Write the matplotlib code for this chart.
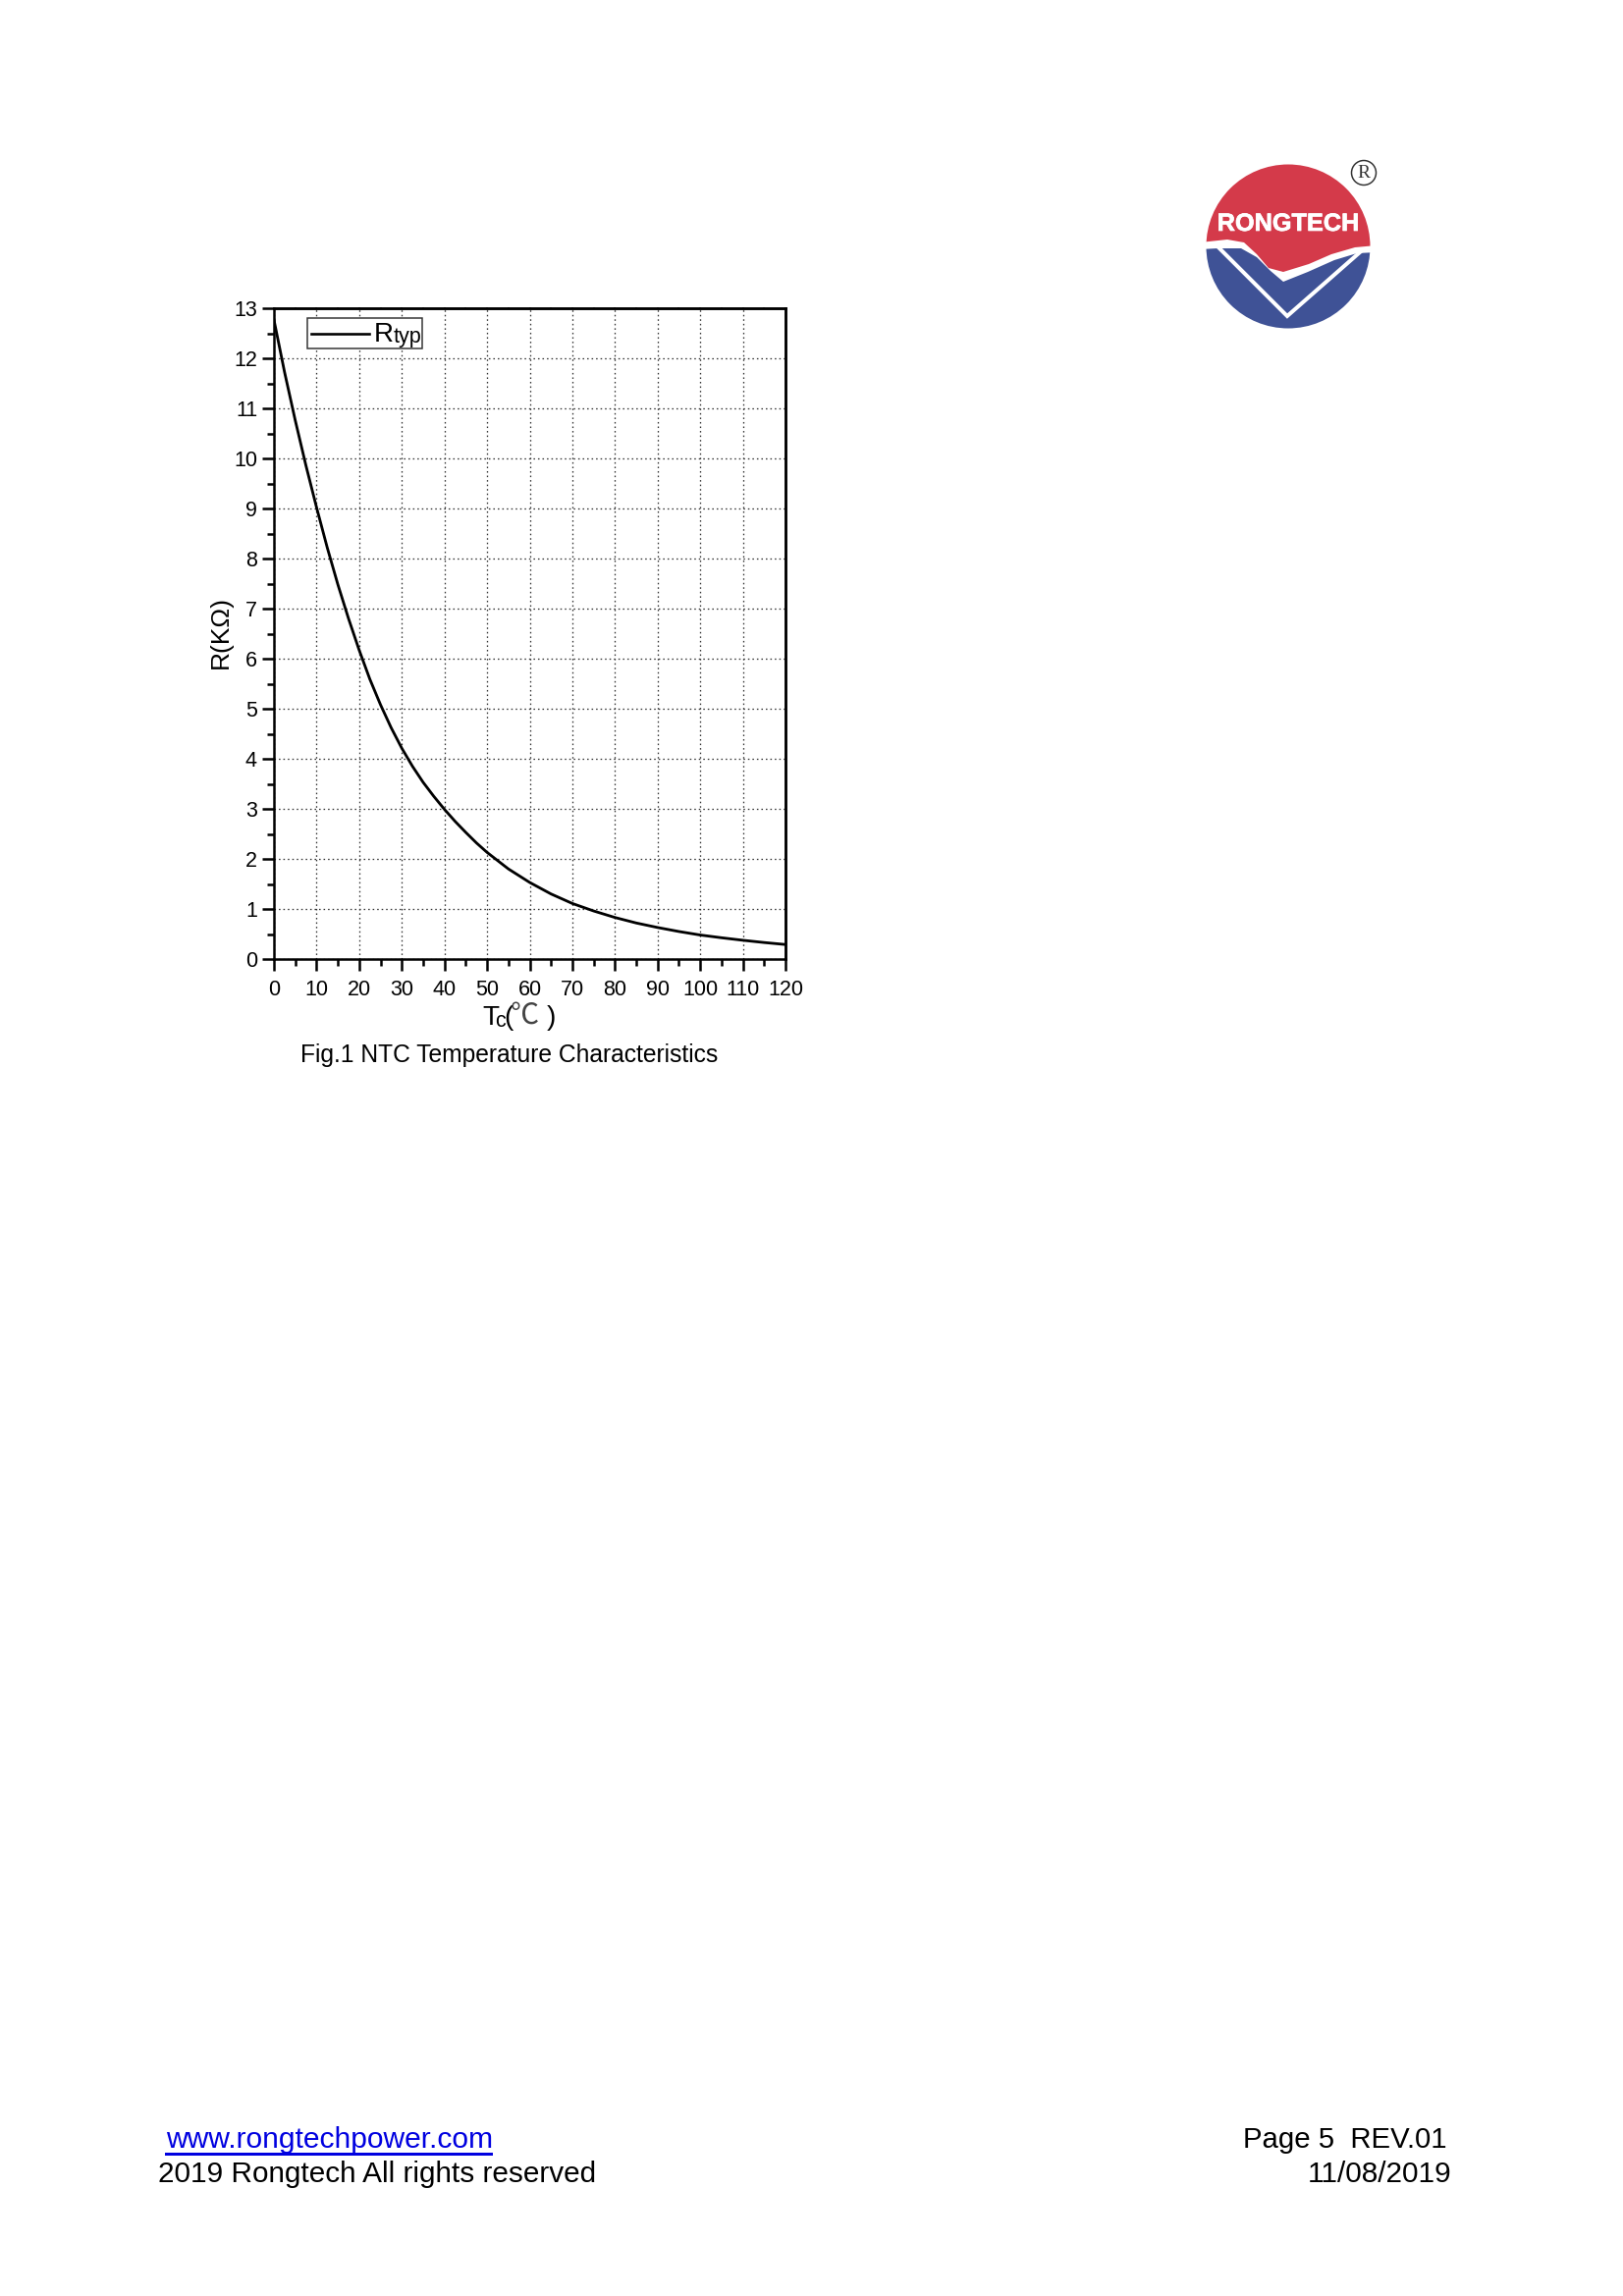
import matplotlib
matplotlib.use("Agg")
import matplotlib.pyplot as plt
import matplotlib.patheffects as pe
from matplotlib.patches import Circle, Polygon, Rectangle
from matplotlib.ticker import MultipleLocator

# Datos
temperatura = [0, 2.5, 5, 7.5, 10, 12.5, 15, 17.5, 20, 22.5, 25, 27.5, 30, 32.5, 35, 37.5, 40,
               42.5, 45, 47.5, 50, 55, 60, 65, 70, 75, 80, 85, 90, 95, 100, 105, 110, 115, 120]
resistencia = [12.77, 11.72, 10.76, 9.86, 9.02, 8.22, 7.48, 6.80, 6.17, 5.59, 5.08, 4.62, 4.21,
               3.85, 3.53, 3.25, 2.99, 2.75, 2.53, 2.32, 2.13, 1.80, 1.53, 1.30, 1.11, 0.96, 0.83,
               0.72, 0.63, 0.55, 0.48, 0.425, 0.375, 0.33, 0.29]
x_ticks = list(range(0, 121, 10))
y_ticks = list(range(0, 14))

W, H = 1653, 2339
DPI = 100
plt.rcParams["font.family"] = ["Liberation Sans", "Noto Sans CJK SC", "DejaVu Sans"]


def px(p):
    return p * 72 / DPI


fig = plt.figure(figsize=(W / DPI, H / DPI), dpi=DPI, facecolor="white")

# Capa de pagina en pixeles (logo y textos)
pagina = fig.add_axes([0, 0, 1, 1])
pagina.set_xlim(0, W)
pagina.set_ylim(H, 0)
pagina.axis("off")

# Logo
cx, cy, radio = 1312, 251, 83.5


def logo_xy(puntos):
    # coordenadas relativas al centro del logo, en pixeles de pagina
    return [(cx + a, cy + b) for a, b in puntos]


disco = Circle((cx, cy), radio, transform=pagina.transData, facecolor="none", edgecolor="none")
pagina.add_patch(disco)
rojo = Polygon(
    logo_xy([(-90, -95), (90, -95), (90, -1), (68, 1), (44, 8), (21, 18), (-5, 26), (-20, 22),
             (-32, 8), (-45, -4), (-62, -7), (-90, -4)]),
    facecolor="#D43A4A", edgecolor="none",
)
azul = Polygon(
    logo_xy([(-90, 3), (-72, 2), (-48, 2), (-32, 11), (-18, 25), (-5, 36), (20, 26), (47, 14),
             (70, 7), (90, 6), (90, 95), (-90, 95)]),
    facecolor="#3F5296", edgecolor="none",
)
pagina.add_patch(rojo)
pagina.add_patch(azul)
rojo.set_clip_path(disco)
azul.set_clip_path(disco)
pagina.plot(*zip(*logo_xy([(-70, 2), (-1, 71), (73, 6)])), color="white", lw=px(4),
            solid_joinstyle="miter")
pagina.text(cx, cy - 23, "RONGTECH", color="white", fontsize=18.2, fontweight="bold",
            ha="center", va="center",
            path_effects=[pe.withStroke(linewidth=0.5, foreground="white")])
pagina.add_patch(Circle((cx + 77, cy - 75), 12.5, facecolor="white", edgecolor="#333333", lw=px(1.5)))
pagina.text(cx + 77, cy - 74.5, "R", family="Liberation Serif", fontsize=14, color="#333333",
            ha="center", va="center")

# Grafica
ax = fig.add_axes([279 / W, 1 - 977 / H, 521 / W, 663 / H])
ax.patch.set_alpha(0)
ax.plot(temperatura, resistencia, color="black", lw=px(2.8))
ax.set_xlim(0, 120)
ax.set_ylim(0, 13)
ax.set_xticks(x_ticks)
ax.set_yticks(y_ticks)
ax.xaxis.set_minor_locator(MultipleLocator(5))
ax.yaxis.set_minor_locator(MultipleLocator(0.5))
ax.grid(True, which="major", color="#333333", lw=px(1.3), linestyle=(0, (1.2, 2.3)))
ax.set_axisbelow(True)
for lado in ax.spines.values():
    lado.set_linewidth(px(2.5))
ax.tick_params(axis="both", which="major", length=px(12), width=px(2.5), labelsize=15.5,
               direction="out")
ax.tick_params(axis="both", which="minor", length=px(7), width=px(2.5), direction="out")
ax.tick_params(axis="x", which="major", pad=px(9))
ax.tick_params(axis="y", which="major", pad=px(5))

# Marcas pequenas arriba y a la derecha
arriba = ax.secondary_xaxis("top")
arriba.set_xticks(x_ticks)
arriba.xaxis.set_minor_locator(MultipleLocator(5))
arriba.tick_params(which="both", direction="out", length=px(1), width=px(1.5), labeltop=False)
arriba.spines["top"].set_linewidth(px(2.5))
derecha = ax.secondary_yaxis("right")
derecha.set_yticks(y_ticks)
derecha.yaxis.set_minor_locator(MultipleLocator(0.5))
derecha.tick_params(which="both", direction="out", length=px(1), width=px(1.5), labelright=False)
derecha.spines["right"].set_linewidth(px(2.5))

# Leyenda
ax.set_zorder(1)
ax.add_patch(Rectangle((313, 324), 117, 31, transform=pagina.transData, facecolor="white",
                       edgecolor="#333333", lw=px(1.5), zorder=5))
ax.plot([317, 376], [339.5, 339.5], transform=pagina.transData, color="black", lw=px(2.6), zorder=6)
ax.set_xlim(0, 120)
ax.set_ylim(0, 13)
texto = dict(transform=pagina.transData, color="black", zorder=6)
ax.text(381, 341, "R", fontsize=20, ha="left", va="center", **texto)
ax.text(401, 344, "typ", fontsize=15.5, ha="left", va="center", **texto)

# Titulos de ejes
pagina.text(225, 644, "R(KΩ)", fontsize=19, rotation=90, ha="center", va="center")
pagina.text(491, 1037, "T", fontsize=20, ha="left", va="center")
pagina.text(504, 1040, "c", fontsize=15.5, ha="left", va="center")
pagina.text(513, 1037, "(", fontsize=20, ha="left", va="center")
pagina.text(520, 1035, "℃", family="Noto Sans CJK SC", fontweight="light", fontsize=21,
            color="#444444", ha="left", va="center")
pagina.text(566, 1037, ")", fontsize=20, ha="right", va="center")
pagina.text(519, 1075, "Fig.1 NTC Temperature Characteristics", fontsize=17.7, ha="center", va="center")

# Pie de pagina
pagina.text(169, 2188, "www.rongtechpower.com", fontsize=21.6, color="#0000E0", ha="left", va="baseline")
pagina.plot([169, 500], [2194, 2194], color="#0000E0", lw=px(3))
pagina.text(161, 2223, "2019 Rongtech All rights reserved", fontsize=21.4, ha="left", va="baseline")
pagina.text(1474, 2188, "Page 5  REV.01", fontsize=21.2, ha="right", va="baseline")
pagina.text(1478, 2223, "11/08/2019", fontsize=21.4, ha="right", va="baseline")

fig.savefig("out.png", dpi=DPI)
plt.close(fig)
